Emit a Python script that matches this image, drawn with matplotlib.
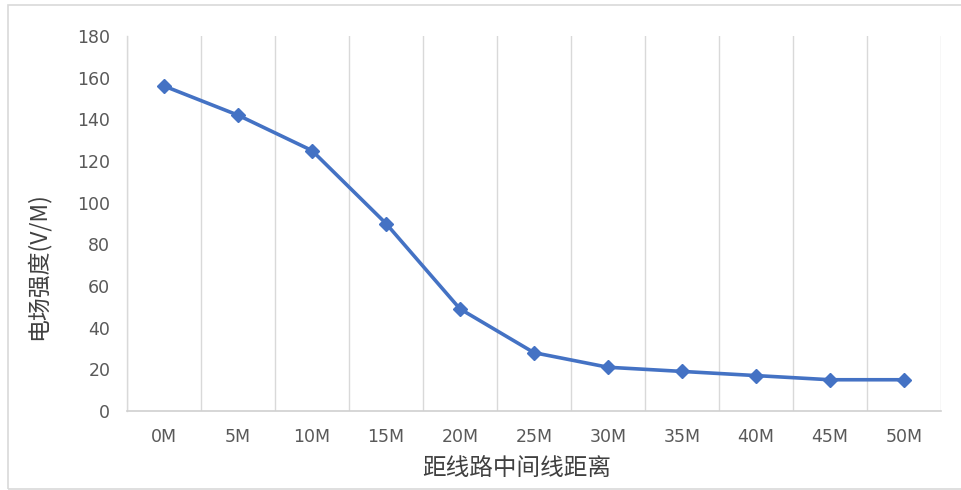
import matplotlib
matplotlib.use("Agg")
import matplotlib.pyplot as plt
from matplotlib.patches import Rectangle

plt.rcParams['font.family'] = ['Noto Sans CJK SC', 'DejaVu Sans']

distances = ["0M", "5M", "10M", "15M", "20M", "25M", "30M", "35M", "40M", "45M", "50M"]
field_strength = [156, 142, 125, 90, 49, 28, 21, 19, 17, 15, 15]
y_ticks = [0, 20, 40, 60, 80, 100, 120, 140, 160, 180]

W, H = 961, 490
fig = plt.figure(figsize=(W / 100, H / 100), dpi=100)
fig.patch.set_facecolor("white")

# outer chart frame
fig.add_artist(Rectangle((8 / W, 1 / H), 1.2, (H - 6) / H, transform=fig.transFigure,
                         fill=False, edgecolor="#d9d9d9", linewidth=1.2))

left, right, top, bottom = 127, 941, 36, 411
ax = fig.add_axes([left / W, 1 - bottom / H, (right - left) / W, (bottom - top) / H])

x = list(range(len(distances)))
ax.plot(x, field_strength, color="#4472C4", linewidth=2.6, marker="D",
        markersize=7.5, markerfacecolor="#4472C4", markeredgecolor="#4472C4", zorder=3)

ax.set_xlim(-0.5, len(distances) - 0.5)
ax.set_ylim(y_ticks[0], y_ticks[-1])
ax.set_yticks(y_ticks)
ax.set_xticks(x)
ax.set_xticklabels(distances)

# vertical gridlines at category boundaries
ax.set_xticks([i - 0.5 for i in range(len(distances) + 1)], minor=True)
ax.grid(True, which="minor", axis="x", color="#d9d9d9", linewidth=1.0)
ax.grid(False, which="major")
ax.tick_params(which="both", length=0)
ax.tick_params(axis="x", which="major", pad=12, labelsize=12.5, labelcolor="#595959")
ax.tick_params(axis="y", pad=12, labelsize=12.5, labelcolor="#595959")

for side in ("top", "right"):
    ax.spines[side].set_visible(False)
ax.spines["left"].set_color("#d9d9d9")
ax.spines["bottom"].set_color("#d0d0d0")
ax.spines["left"].set_linewidth(1.0)
ax.spines["bottom"].set_linewidth(1.2)

for lbl in ax.get_xticklabels() + ax.get_yticklabels():
    lbl.set_fontfamily(['DejaVu Sans'])

ax.set_xlabel("距线路中间线距离", fontsize=17, color="#404040")
ax.set_ylabel("电场强度(V/M)", fontsize=16.5, color="#404040")
ax.xaxis.set_label_coords((517 - left) / (right - left), (bottom - 457) / (bottom - top))
ax.yaxis.set_label_coords((50 - left) / (right - left), (bottom - 266) / (bottom - top))

fig.savefig("out.png", dpi=100, facecolor="white")
